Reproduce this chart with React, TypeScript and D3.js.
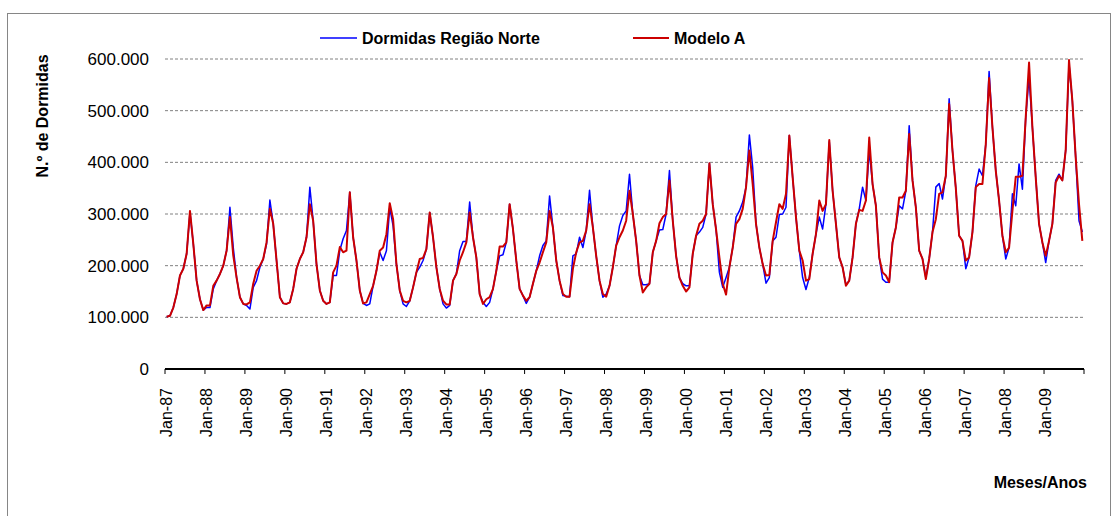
import React from "react";
import * as d3 from "d3";

// Dormidas (milhares) por mês, Jan-87 .. Dez-09
const anos = d3.range(1987, 2010);
const meses = ["Jan", "Fev", "Mar", "Abr", "Mai", "Jun", "Jul", "Ago", "Set", "Out", "Nov", "Dez"];
const categorias = anos.flatMap((a) => meses.map((m) => `${m}-${String(a).slice(2)}`));
const rotulosX = anos.map((a) => `Jan-${String(a).slice(2)}`);
const ticksY = [0, 100, 200, 300, 400, 500, 600];

const dormidasNorte = [
  101, 103, 119, 145, 181, 194, 223, 303, 242, 171, 135, 114,
  119, 119, 155, 171, 184, 200, 229, 313, 235, 177, 139, 126,
  123, 116, 158, 171, 197, 213, 242, 327, 281, 210, 139, 127,
  126, 129, 155, 194, 213, 226, 255, 352, 287, 203, 152, 132,
  126, 129, 181, 181, 230, 252, 268, 342, 255, 210, 152, 127,
  123, 126, 161, 190, 226, 210, 229, 313, 277, 203, 152, 126,
  121, 132, 158, 187, 197, 210, 232, 303, 255, 197, 155, 126,
  118, 123, 171, 184, 229, 247, 247, 323, 255, 216, 145, 129,
  121, 129, 155, 190, 219, 221, 245, 319, 271, 210, 155, 142,
  127, 139, 165, 190, 219, 239, 248, 335, 274, 210, 171, 142,
  141, 140, 219, 223, 255, 235, 268, 346, 274, 219, 171, 139,
  145, 161, 197, 239, 277, 297, 306, 377, 300, 248, 181, 163,
  163, 165, 226, 248, 269, 270, 300, 384, 287, 219, 177, 165,
  161, 161, 223, 258, 265, 274, 300, 398, 319, 270, 187, 158,
  177, 197, 235, 294, 306, 323, 352, 453, 390, 281, 235, 203,
  166, 177, 248, 255, 299, 300, 313, 452, 371, 294, 229, 177,
  154, 177, 223, 261, 294, 271, 319, 440, 345, 281, 216, 197,
  163, 171, 216, 281, 310, 352, 326, 423, 358, 316, 216, 174,
  168, 168, 245, 274, 316, 310, 345, 471, 365, 313, 229, 213,
  177, 213, 265, 352, 359, 329, 374, 523, 423, 350, 258, 248,
  194, 216, 265, 355, 387, 374, 435, 576, 468, 384, 326, 258,
  213, 235, 339, 316, 397, 348, 487, 565, 468, 371, 281, 245,
  206, 248, 281, 365, 377, 365, 423, 590, 519, 410, 287, 265,
];

const modeloA = [
  101, 103, 119, 145, 181, 194, 223, 306, 242, 171, 135, 114,
  123, 123, 161, 171, 184, 200, 229, 294, 220, 177, 139, 126,
  125, 129, 165, 190, 200, 213, 245, 310, 281, 210, 139, 127,
  126, 129, 155, 194, 213, 226, 255, 319, 287, 203, 152, 132,
  126, 129, 187, 200, 236, 226, 229, 342, 255, 210, 152, 127,
  129, 145, 161, 190, 229, 235, 261, 321, 290, 203, 152, 132,
  129, 132, 158, 187, 213, 215, 232, 303, 255, 197, 155, 132,
  125, 125, 171, 184, 210, 226, 245, 303, 255, 216, 145, 126,
  135, 139, 155, 190, 237, 237, 245, 319, 271, 210, 155, 142,
  132, 139, 165, 190, 206, 226, 245, 306, 274, 210, 171, 145,
  140, 140, 194, 226, 245, 248, 268, 319, 274, 219, 171, 145,
  140, 161, 197, 239, 255, 268, 287, 345, 300, 248, 181, 148,
  158, 165, 226, 248, 282, 294, 300, 365, 287, 219, 177, 161,
  150, 158, 223, 258, 281, 287, 300, 398, 319, 270, 216, 165,
  144, 197, 235, 281, 290, 310, 352, 423, 358, 281, 235, 203,
  181, 182, 248, 284, 319, 310, 339, 452, 371, 294, 229, 210,
  171, 174, 223, 261, 326, 306, 319, 443, 345, 281, 216, 197,
  161, 171, 216, 281, 308, 306, 326, 448, 358, 316, 216, 187,
  181, 168, 245, 274, 332, 332, 345, 455, 365, 313, 229, 213,
  174, 213, 265, 290, 339, 342, 374, 513, 423, 350, 258, 248,
  210, 216, 265, 352, 358, 358, 435, 563, 468, 384, 326, 258,
  226, 235, 306, 372, 372, 374, 487, 593, 468, 371, 281, 245,
  219, 248, 281, 361, 374, 365, 423, 598, 519, 410, 319, 248,
];

const FONT = "'Liberation Sans', Arial, sans-serif";
const W = 1118;
const H = 516;

export default function App() {
  const x = d3.scaleBand<string>().domain(categorias).range([165, 1084]).paddingInner(0).paddingOuter(0);
  const y = d3.scaleLinear().domain([0, 600]).range([369, 59]);
  const cx = (i: number) => (x(categorias[i]) ?? 0) + x.bandwidth() / 2;

  const linha = d3
    .line<number>()
    .x((_, i) => cx(i))
    .y((d) => y(d));

  const fmt = (v: number) => (v === 0 ? "0" : `${v}.000`);
  const tickPos = d3.range(0, categorias.length + 1, 12).map((i) => 165 + i * x.step());

  return (
    <svg width={W} height={H} style={{ position: "absolute", left: 0, top: 0, background: "#fff" }} fontFamily={FONT}>
      <rect x={7.5} y={13.5} width={1103} height={520} fill="#fff" stroke="#868686" strokeWidth={1} />

      {/* grelha */}
      {ticksY.filter((t) => t > 0).map((t) => (
        <line key={t} x1={165} x2={1084} y1={y(t)} y2={y(t)} stroke="#808080" strokeWidth={1} strokeDasharray="3,2" />
      ))}

      {/* rótulos eixo Y */}
      {ticksY.map((t) => (
        <text key={t} x={149} y={y(t)} dy="0.36em" textAnchor="end" fontSize={17} fill="#000">
          {fmt(t)}
        </text>
      ))}

      <text transform="translate(48,116) rotate(-90)" textAnchor="middle" fontSize={16} fontWeight="bold">
        N.º de Dormidas
      </text>

      {/* eixo X */}
      <line x1={165} x2={1084} y1={369} y2={369} stroke="#000" strokeWidth={2} />
      {tickPos.map((p, i) => (
        <line key={i} x1={p} x2={p} y1={369} y2={374} stroke="#000" strokeWidth={1} />
      ))}
      {rotulosX.map((r, k) => (
        <text key={r} transform={`translate(${cx(k * 12) + 5.5},388) rotate(-90)`} textAnchor="end" fontSize={16}>
          {r}
        </text>
      ))}

      <text x={1087} y={488} textAnchor="end" fontSize={16} fontWeight="bold">
        Meses/Anos
      </text>

      {/* séries */}
      <path d={linha(dormidasNorte) ?? ""} fill="none" stroke="#0000FF" strokeWidth={1.5} strokeLinejoin="round" />
      <path d={linha(modeloA) ?? ""} fill="none" stroke="#CC0000" strokeWidth={2} strokeLinejoin="round" />

      {/* legenda */}
      <line x1={320} x2={357} y1={38} y2={38} stroke="#0000FF" strokeWidth={1.5} />
      <text x={362} y={38} dy="0.36em" fontSize={16} fontWeight="bold">
        Dormidas Região Norte
      </text>
      <line x1={633} x2={669} y1={38} y2={38} stroke="#CC0000" strokeWidth={2} />
      <text x={674} y={38} dy="0.36em" fontSize={16} fontWeight="bold">
        Modelo A
      </text>
    </svg>
  );
}
